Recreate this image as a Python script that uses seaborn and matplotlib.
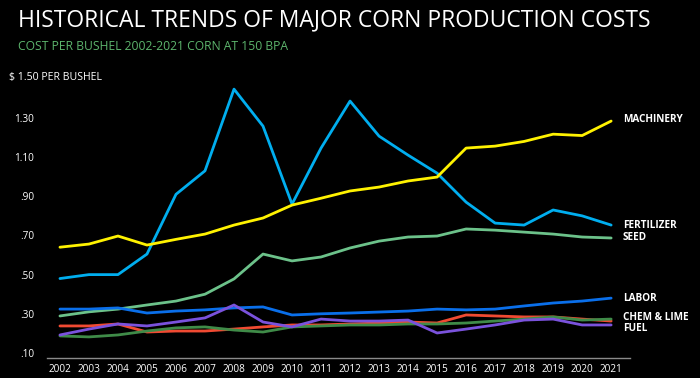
import numpy as np
import pandas as pd
import matplotlib
matplotlib.use("Agg")
import matplotlib.pyplot as plt
import seaborn as sns

years = list(range(2002, 2022))

fertilizer = [0.48, 0.50, 0.50, 0.605, 0.91, 1.03, 1.447, 1.258, 0.86, 1.146,
              1.386, 1.207, 1.11, 1.018, 0.87, 0.763, 0.753, 0.83, 0.80, 0.753]
machinery = [0.64, 0.656, 0.697, 0.651, 0.68, 0.707, 0.753, 0.789, 0.855, 0.89,
             0.927, 0.947, 0.978, 0.998, 1.146, 1.156, 1.18, 1.217, 1.21, 1.284]
seed = [0.289, 0.31, 0.324, 0.345, 0.365, 0.40, 0.478, 0.605, 0.57, 0.59,
        0.636, 0.671, 0.692, 0.697, 0.733, 0.727, 0.717, 0.707, 0.692, 0.687]
labor = [0.324, 0.324, 0.33, 0.304, 0.314, 0.32, 0.33, 0.335, 0.294, 0.30,
         0.304, 0.309, 0.314, 0.324, 0.32, 0.324, 0.34, 0.355, 0.365, 0.38]
chem = [0.238, 0.238, 0.248, 0.207, 0.212, 0.212, 0.222, 0.233, 0.243, 0.243,
        0.248, 0.253, 0.258, 0.253, 0.294, 0.289, 0.284, 0.284, 0.273, 0.263]
lime = [0.187, 0.182, 0.192, 0.212, 0.228, 0.233, 0.217, 0.207, 0.233, 0.238,
        0.243, 0.243, 0.248, 0.248, 0.253, 0.263, 0.273, 0.284, 0.268, 0.273]
fuel = [0.192, 0.222, 0.248, 0.238, 0.258, 0.279, 0.345, 0.258, 0.233, 0.273,
        0.263, 0.263, 0.268, 0.202, 0.222, 0.243, 0.268, 0.273, 0.243, 0.243]

series_names = ["Fertilizer", "Machinery", "Seed", "Labor", "Chem", "Lime", "Fuel"]
series_values = [fertilizer, machinery, seed, labor, chem, lime, fuel]
colors = ["#00AEEF", "#FFF200", "#6CC28A", "#0A6FEA", "#F04A32", "#3F8B48", "#7A52DC"]

y_ticks = [0.10, 0.30, 0.50, 0.70, 0.90, 1.10, 1.30]
y_tick_labels = [".10", ".30", ".50", ".70", ".90", "1.10", "1.30"]

end_labels = ["MACHINERY", "FERTILIZER", "SEED", "LABOR", "CHEM & LIME", "FUEL"]
end_label_y = [1.29, 0.753, 0.687, 0.38, 0.28, 0.224]

rows = []
for name, vals in zip(series_names, series_values):
    for yr, v in zip(years, vals):
        rows.append({"year": yr, "cost": v, "series": name})
df = pd.DataFrame(rows)

sns.set_style("dark", {"axes.facecolor": "black", "figure.facecolor": "black"})
plt.rcParams["font.family"] = ["Open Sans", "DejaVu Sans"]

fig = plt.figure(figsize=(7, 3.78), dpi=100)
fig.patch.set_facecolor("black")
ax = fig.add_axes([0.067, 0.053, 0.833, 0.762])
ax.set_facecolor("black")

sns.lineplot(data=df, x="year", y="cost", hue="series", hue_order=series_names,
             palette=colors, linewidth=2.0, legend=False, ax=ax)

ax.set_xlim(2002 - 0.45, 2021 + 0.65)
ax.set_ylim(0.0745, 1.545)
ax.set_xticks(years)
ax.set_xticklabels([str(y) for y in years], color="white", fontsize=7.2)
ax.set_yticks(y_ticks)
ax.set_yticklabels(y_tick_labels, color="white", fontsize=7.2)
ax.tick_params(axis="both", length=0)
ax.tick_params(axis="y", pad=9)
ax.tick_params(axis="x", pad=4)
ax.grid(False)
ax.set_xlabel("")
ax.set_ylabel("")
for side in ["top", "right", "left"]:
    ax.spines[side].set_visible(False)
ax.spines["bottom"].set_visible(True)
ax.spines["bottom"].set_color("#8a8a8a")
ax.spines["bottom"].set_linewidth(1.0)

for lab, yv in zip(end_labels, end_label_y):
    ax.text(2021.41, yv, lab, color="white", fontsize=7.2, fontweight="bold",
            va="center", ha="left", clip_on=False)

fig.text(0.013, 0.795, "$ 1.50 PER BUSHEL", color="white", fontsize=7.6, va="center")
fig.text(0.026, 0.947, "HISTORICAL TRENDS OF MAJOR CORN PRODUCTION COSTS",
         color="white", fontsize=16.5, va="center")
fig.text(0.026, 0.878, "COST PER BUSHEL 2002-2021 CORN AT 150 BPA",
         color="#5DB56D", fontsize=8.7, va="center")

fig.savefig("out.png", dpi=100, facecolor="black")
